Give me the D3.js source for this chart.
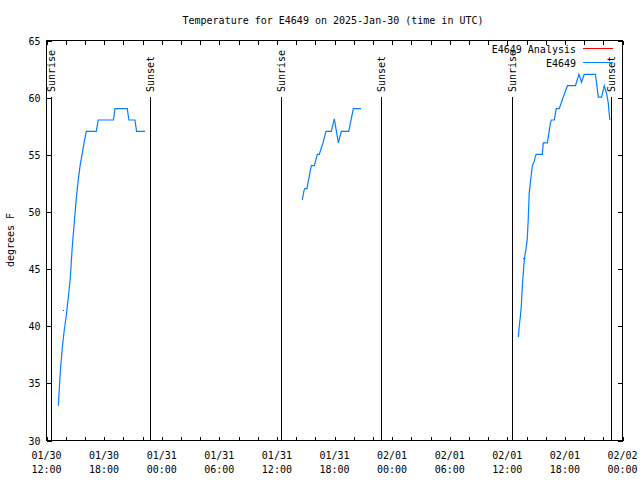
<!DOCTYPE html>
<html><head><meta charset="utf-8">
<script src="https://cdn.jsdelivr.net/npm/d3@7"></script>
<style>
body{margin:0;background:#fff;}
text{font-family:"DejaVu Sans Mono",monospace;font-size:10px;fill:#000;}
</style></head>
<body><svg id="c" width="640" height="480"></svg>
<script>
const title = "Temperature for E4649 on 2025-Jan-30 (time in UTC)";
const yLabel = "degrees F";
const stationName = "E4649";
const analysisName = "E4649 Analysis";

// observation times (UTC) and temperatures (deg F)
const obsTimes = [
 "01/30 13:17","01/30 13:29","01/30 13:42","01/30 13:54","01/30 14:07","01/30 14:19","01/30 14:32","01/30 14:44",
 "01/30 14:57","01/30 15:09","01/30 15:22","01/30 15:34","01/30 15:47","01/30 15:59","01/30 16:12","01/30 17:14",
 "01/30 17:27","01/30 19:02","01/30 19:11","01/30 20:28","01/30 20:38","01/30 21:16","01/30 21:26","01/30 22:19",
 "01/31 14:42","01/31 14:52","01/31 14:59","01/31 15:11","01/31 15:38","01/31 15:57","01/31 16:16","01/31 16:28",
 "01/31 16:51","01/31 17:10","01/31 17:43","01/31 18:02","01/31 18:27","01/31 18:46","01/31 19:32","01/31 20:01","01/31 20:49",
 "02/01 13:12","02/01 13:18","02/01 13:24","02/01 13:30","02/01 13:37","02/01 13:43","02/01 13:49","02/01 13:55",
 "02/01 14:02","02/01 14:08","02/01 14:14","02/01 14:20","02/01 14:27","02/01 14:33","02/01 14:39","02/01 14:45",
 "02/01 14:52","02/01 14:58","02/01 15:04","02/01 15:42","02/01 15:48","02/01 16:13","02/01 16:19","02/01 16:26",
 "02/01 16:32","02/01 16:38","02/01 16:57","02/01 17:09","02/01 17:28","02/01 17:53","02/01 18:19","02/01 19:09",
 "02/01 19:31","02/01 19:47","02/01 20:04","02/01 21:14","02/01 21:32","02/01 21:52","02/01 22:09","02/01 22:24",
 "02/01 22:34","02/01 22:44"
];
const obsTemps = [
 33,35.9,38.1,39.6,40.9,42.4,44.2,46.9,
 49.1,51.1,52.8,54.1,55.1,56.1,57,57,
 58,58,59,59,58,58,57,57,
 51,51.8,52,52,54,54,55,55,
 56,57,57,58.1,56,57,57,59,59,
 39,40,40.7,41.6,43.4,44.6,45.7,46.3,
 46.9,47.6,49.3,51.6,52.5,53.2,53.9,54.2,
 54.4,54.8,55,55,56,56,56.5,57.1,
 57.7,58,58,59,59,60,61,61,
 62,61.3,62,62,60,60,61,60.3,
 59.5,58
];
// analysis points
const anaTimes = ["01/30 13:48","02/01 13:43"];
const anaTemps = [41.4, 45.9];

// sunrise / sunset markers
const sunTimes = ["01/30 12:31","01/30 22:52","01/31 12:30","01/31 22:53","02/01 12:30","02/01 22:54"];
const sunLabels = ["Sunrise","Sunset","Sunrise","Sunset","Sunrise","Sunset"];

const xDomain = ["01/30 12:00","02/02 00:00"];
const yTicks = [30,35,40,45,50,55,60,65];

const parse = s => d3.utcParse("%Y/%m/%d %H:%M")("2025/" + s);

const svg = d3.select("#c");
const L = 46, R = 622, T = 40, B = 440;
const x = d3.scaleUtc().domain(xDomain.map(parse)).range([L, R]);
const y = d3.scaleLinear().domain([30, 65]).range([B, T]);

svg.append("rect").attr("width",640).attr("height",480).attr("fill","#fff");

// title
svg.append("text").attr("x", 333).attr("y", 24).attr("text-anchor","middle").text(title);

// y label
svg.append("text").attr("transform","translate(14,240) rotate(-90)").attr("text-anchor","middle").text(yLabel);

const xTickVals = d3.utcHour.every(2).range(parse(xDomain[0]), d3.utcMinute.offset(parse(xDomain[1]),1));

// axes
const gx = svg.append("g").attr("transform",`translate(0.5,${B+0.5})`)
  .call(d3.axisBottom(x).tickValues(xTickVals).tickSizeInner(-4).tickSizeOuter(0).tickFormat(""));
const gxt = svg.append("g").attr("transform",`translate(0.5,${T+0.5})`)
  .call(d3.axisTop(x).tickValues(xTickVals).tickSizeInner(-4).tickSizeOuter(0).tickFormat(""));
const gy = svg.append("g").attr("transform",`translate(${L+0.5},0.5)`)
  .call(d3.axisLeft(y).tickValues(yTicks).tickSizeInner(-5).tickSizeOuter(0).tickPadding(10));
const gyr = svg.append("g").attr("transform",`translate(${R+0.5},0.5)`)
  .call(d3.axisRight(y).tickValues(yTicks).tickSizeInner(-5).tickSizeOuter(0).tickFormat(""));
[gx,gxt,gy,gyr].forEach(g=>{
  g.select(".domain").remove();
  g.selectAll("line").attr("stroke","#000").attr("shape-rendering","crispEdges");
});
gy.selectAll("text").attr("font-family",null).attr("font-size",null).attr("dy","0.35em").attr("x",-6);

// x tick labels (two lines)
const fmtD = d3.utcFormat("%m/%d"), fmtH = d3.utcFormat("%H:%M");
const labelTicks = xTickVals.filter(d => d.getUTCHours() % 6 === 0);
const xl = svg.append("g").selectAll("text").data(labelTicks).join("text")
  .attr("x", d => x(d)+0.5).attr("text-anchor","middle");
xl.append("tspan").attr("x", d => x(d)+0.5).attr("y", 459).text(fmtD);
xl.append("tspan").attr("x", d => x(d)+0.5).attr("y", 473).text(fmtH);

// frame
svg.append("rect").attr("x",L+0.5).attr("y",T+0.5).attr("width",R-L).attr("height",B-T)
  .attr("fill","none").attr("stroke","#000").attr("shape-rendering","crispEdges");

// sunrise / sunset
const sun = sunTimes.map((t,i)=>({t:parse(t), label:sunLabels[i]}));
svg.append("g").selectAll("line").data(sun).join("line")
  .attr("x1", d=>Math.round(x(d.t))+0.5).attr("x2", d=>Math.round(x(d.t))+0.5)
  .attr("y1", 97).attr("y2", B).attr("stroke","#000").attr("shape-rendering","crispEdges");
svg.append("g").selectAll("text").data(sun).join("text")
  .attr("transform", d=>`translate(${Math.round(x(d.t))+4},92) rotate(-90)`)
  .text(d=>d.label);

// observation line
const obs = obsTimes.map((t,i)=>({t:parse(t), v:obsTemps[i]}));
const segs = [];
obs.forEach((d,i)=>{
  if (i===0 || d.t - obs[i-1].t > 3*3600e3) segs.push([]);
  segs[segs.length-1].push(d);
});
const line = d3.line().x(d=>x(d.t)).y(d=>y(d.v));
svg.append("g").selectAll("path").data(segs).join("path")
  .attr("d", line).attr("fill","none").attr("stroke","#0080ff").attr("stroke-width",1.2);

// analysis points
const ana = anaTimes.map((t,i)=>({t:parse(t), v:anaTemps[i]}));
svg.append("g").selectAll("rect").data(ana).join("rect")
  .attr("x", d=>Math.round(x(d.t))).attr("y", d=>Math.round(y(d.v)))
  .attr("width",1).attr("height",1).attr("fill","#ff0000");

// legend
const lg = svg.append("g");
lg.append("text").attr("x",576).attr("y",53).attr("text-anchor","end").text(analysisName);
lg.append("line").attr("x1",583).attr("x2",613).attr("y1",48.5).attr("y2",48.5).attr("stroke","#ff0000");
lg.append("text").attr("x",576).attr("y",67).attr("text-anchor","end").text(stationName);
lg.append("line").attr("x1",583).attr("x2",613).attr("y1",62.5).attr("y2",62.5).attr("stroke","#0080ff");
</script></body></html>
